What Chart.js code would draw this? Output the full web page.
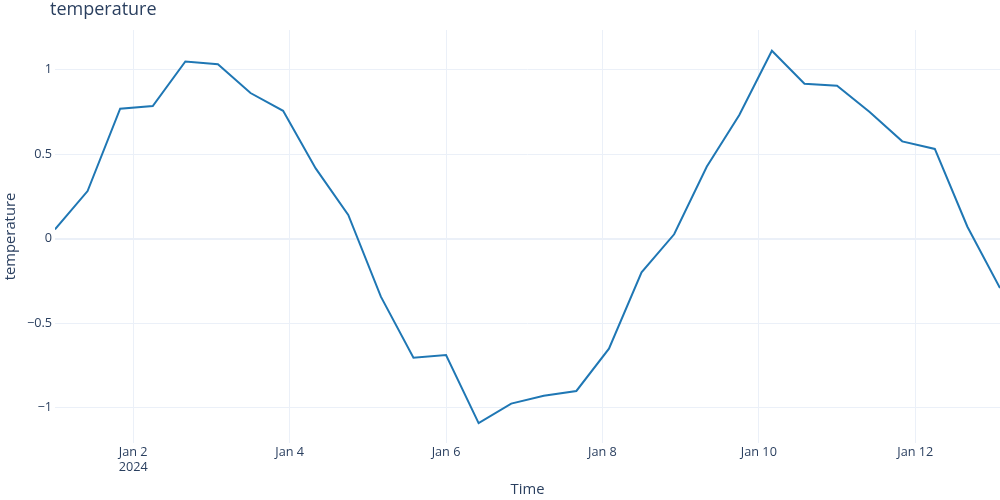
<!DOCTYPE html>
<html>
<head>
<meta charset="utf-8">
<script src="https://cdn.jsdelivr.net/npm/chart.js@4"></script>
<style>
  html, body { margin: 0; padding: 0; background: #fff; }
  #wrap { width: 1000px; height: 500px; }
</style>
</head>
<body>
<div id="wrap"><canvas id="chart" width="1000" height="500"></canvas></div>
<script>
// readings every 10 hours
const times = [
  "2024-01-01T00:00Z", "2024-01-01T10:00Z", "2024-01-01T20:00Z", "2024-01-02T06:00Z",
  "2024-01-02T16:00Z", "2024-01-03T02:00Z", "2024-01-03T12:00Z", "2024-01-03T22:00Z",
  "2024-01-04T08:00Z", "2024-01-04T18:00Z", "2024-01-05T04:00Z", "2024-01-05T14:00Z",
  "2024-01-06T00:00Z", "2024-01-06T10:00Z", "2024-01-06T20:00Z", "2024-01-07T06:00Z",
  "2024-01-07T16:00Z", "2024-01-08T02:00Z", "2024-01-08T12:00Z", "2024-01-08T22:00Z",
  "2024-01-09T08:00Z", "2024-01-09T18:00Z", "2024-01-10T04:00Z", "2024-01-10T14:00Z",
  "2024-01-11T00:00Z", "2024-01-11T10:00Z", "2024-01-11T20:00Z", "2024-01-12T06:00Z",
  "2024-01-12T16:00Z", "2024-01-13T02:00Z"
];
const temperature = [
  0.054, 0.281, 0.768, 0.784, 1.048, 1.031, 0.861, 0.756, 0.415, 0.14,
  -0.344, -0.705, -0.689, -1.092, -0.977, -0.930, -0.902, -0.652, -0.200, 0.025,
  0.425, 0.731, 1.111, 0.916, 0.904, 0.749, 0.575, 0.530, 0.070, -0.293
];
const xTickDates = ["2024-01-02T00:00Z", "2024-01-04T00:00Z", "2024-01-06T00:00Z",
  "2024-01-08T00:00Z", "2024-01-10T00:00Z", "2024-01-12T00:00Z"];
const xTickLabels = [["Jan 2", "2024"], "Jan 4", "Jan 6", "Jan 8", "Jan 10", "Jan 12"];
const yTicks = [-1, -0.5, 0, 0.5, 1];
const yTickLabels = ["\u22121", "\u22120.5", "0", "0.5", "1"];

const textColor = "#2a3f5f";
const gridColor = "#ebf0f8";
const fontFamily = "'Open Sans', verdana, arial, sans-serif";

const points = times.map((t, i) => ({ x: Date.parse(t), y: temperature[i] }));
const xTickVals = xTickDates.map(d => Date.parse(d));

const titlePlugin = {
  id: "plotTitle",
  afterDraw(chart) {
    const ctx = chart.ctx;
    ctx.save();
    ctx.font = "18px " + fontFamily;
    ctx.fillStyle = textColor;
    ctx.textBaseline = "middle";
    ctx.fillText("temperature", 50, 10);
    ctx.restore();
  }
};

new Chart(document.getElementById("chart"), {
  type: "line",
  data: {
    datasets: [{
      label: "temperature",
      data: points,
      borderColor: "#1f77b4",
      borderWidth: 2,
      pointRadius: 0,
      tension: 0,
      fill: false
    }]
  },
  options: {
    responsive: false,
    animation: false,
    layout: { padding: { top: 30, left: 2, right: 0, bottom: 1 } },
    plugins: {
      legend: { display: false },
      tooltip: { enabled: false }
    },
    scales: {
      x: {
        type: "linear",
        min: Date.parse(times[0]),
        max: Date.parse(times[times.length - 1]),
        afterBuildTicks: (scale) => {
          scale.ticks = xTickVals.map(v => ({ value: v }));
        },
        afterFit: (scale) => { scale.height = 56; },
        ticks: {
          color: textColor,
          font: { family: fontFamily, size: 12.7 },
          padding: 2,
          maxRotation: 0,
          callback: (value) => {
            const i = xTickVals.indexOf(value);
            return i >= 0 ? xTickLabels[i] : "";
          }
        },
        grid: { color: gridColor, drawTicks: false },
        border: { display: false },
        title: {
          display: true,
          text: "Time",
          color: textColor,
          font: { family: fontFamily, size: 14.8 },
          padding: { top: 0, bottom: 0 }
        }
      },
      y: {
        type: "linear",
        min: -1.21,
        max: 1.234,
        afterBuildTicks: (scale) => {
          scale.ticks = yTicks.map(v => ({ value: v }));
        },
        afterFit: (scale) => { scale.width = 53; },
        ticks: {
          color: textColor,
          font: { family: fontFamily, size: 12.7 },
          padding: 3,
          callback: (value) => {
            const i = yTicks.indexOf(value);
            return i >= 0 ? yTickLabels[i] : "";
          }
        },
        grid: {
          color: gridColor,
          drawTicks: false,
          lineWidth: (ctx) => (ctx.tick && ctx.tick.value === 0 ? 2 : 1)
        },
        border: { display: false },
        title: {
          display: true,
          text: "temperature",
          color: textColor,
          font: { family: fontFamily, size: 14.8 },
          padding: { top: 0, bottom: 0 }
        }
      }
    }
  },
  plugins: [titlePlugin]
});
</script>
</body>
</html>
